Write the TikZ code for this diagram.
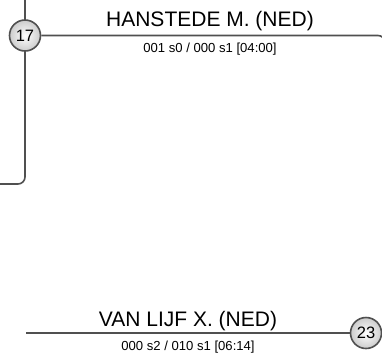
\documentclass[tikz,border=0pt]{standalone}
\usepackage{fontspec}
\setmainfont{Liberation Sans}
\usetikzlibrary{positioning,calc}
\definecolor{linegray}{HTML}{505050}
\tikzset{
  seednode/.style={
    circle, draw=linegray, line width=1.6pt,
    shading=radial, inner color=white, outer color=gray!40,
    minimum size=31pt, inner sep=0pt,
    font=\fontsize{16.5}{19}\selectfont
  },
  bracketline/.style={draw=linegray, line width=1.6pt, rounded corners=7pt},
  nametag/.style={anchor=base, inner sep=0pt, font=\fontsize{21}{24}\selectfont},
  scoretag/.style={anchor=base, inner sep=0pt, font=\fontsize{13.1}{15}\selectfont},
}
\begin{document}
\begin{tikzpicture}[x=1pt, y=-1pt]
  \useasboundingbox (0,0) rectangle (382,360);
  \clip (0,0) rectangle (382,360);
  % upper match
  \coordinate (up1) at (25,-10);
  \coordinate (dn1) at (25,184);
  \coordinate (lf1) at (-10,184);
  \coordinate (rt1) at (385,35.5);
  \coordinate (rd1) at (385,80);
  \draw[bracketline] (up1) -- (dn1) -- (lf1);
  \node (n17) [seednode] at (25,35.5) {17};
  \draw[bracketline] (n17.east) -- (rt1) -- (rd1);
  \node (t17) [nametag] at (210,26.7) {HANSTEDE M. (NED)};
  \node (s17) [scoretag] at (210,52.5) {001 s0 / 000 s1 [04:00]};
  % lower match
  \coordinate (lf2) at (26,333);
  \node (n23) [seednode] at (366,333) {23};
  \draw[bracketline] (lf2) -- (n23.west);
  \node (t23) [nametag] at (188,326) {VAN LIJF X. (NED)};
  \node (s23) [scoretag] at (188,350) {000 s2 / 010 s1 [06:14]};
\end{tikzpicture}
\end{document}
